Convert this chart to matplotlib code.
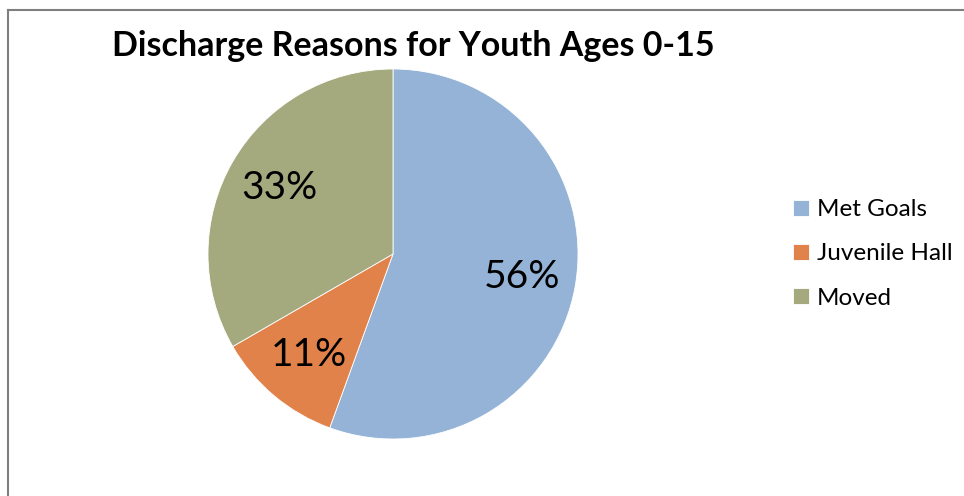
import matplotlib
matplotlib.use('Agg')
import matplotlib.pyplot as plt
from matplotlib.lines import Line2D

# Discharge reasons (counts, youth ages 0-15)
reasons = ['Met Goals', 'Juvenile Hall', 'Moved']
counts = [5, 1, 3]
colors = ['#95B3D7', '#E0824A', '#A4AA7E']

plt.rcParams['font.family'] = ['Lato', 'DejaVu Sans']

fig = plt.figure(figsize=(9.64, 4.96), dpi=100)

# chart frame (only left and top edges are visible in the picture)
fig.add_artist(Line2D([7.5 / 964, 7.5 / 964], [0, 1 - 9.5 / 496], color='#7f7f7f', lw=1.5,
                      transform=fig.transFigure))
fig.add_artist(Line2D([7.5 / 964, 1], [1 - 9.5 / 496, 1 - 9.5 / 496], color='#7f7f7f', lw=1.5,
                      transform=fig.transFigure))

ax = fig.add_axes([208 / 964, 57 / 496, 370 / 964, 370 / 496])
wedges, texts, autotexts = ax.pie(counts, colors=colors, startangle=90, counterclock=False,
                                  autopct='%1.0f%%', pctdistance=0.71,
                                  wedgeprops=dict(edgecolor='white', linewidth=0.6),
                                  textprops=dict(fontsize=28, color='black'))
ax.set_xlim(-1, 1)
ax.set_ylim(-1, 1)
ax.set_aspect('equal')

fig.text(413 / 964, 1 - 46 / 496, 'Discharge Reasons for Youth Ages 0-15',
         ha='center', va='center', fontsize=24.5, fontweight='bold')

fig.legend(wedges, reasons, loc='center left', bbox_to_anchor=(771 / 964, 1 - 254 / 496),
           frameon=False, fontsize=17.5, handlelength=0.65, handleheight=0.65,
           handletextpad=0.35, labelspacing=0.95)

fig.savefig('out.png', dpi=100)
